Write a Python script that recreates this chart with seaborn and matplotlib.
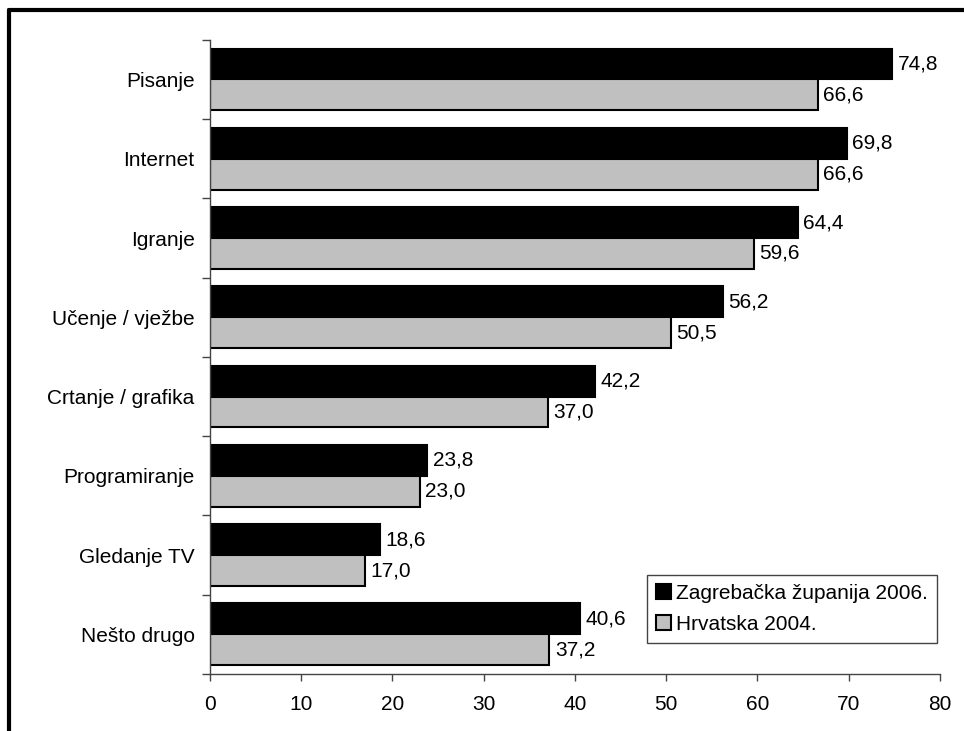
import matplotlib
matplotlib.use("Agg")
import matplotlib.pyplot as plt
import seaborn as sns
import pandas as pd
from matplotlib.lines import Line2D
from matplotlib.patches import Patch

# data
categories = ["Pisanje", "Internet", "Igranje", "Učenje / vježbe",
              "Crtanje / grafika", "Programiranje", "Gledanje TV", "Nešto drugo"]
zagreb_2006 = [74.8, 69.8, 64.4, 56.2, 42.2, 23.8, 18.6, 40.6]
hrvatska_2004 = [66.6, 66.6, 59.6, 50.5, 37.0, 23.0, 17.0, 37.2]
series_names = ["Zagrebačka županija 2006.", "Hrvatska 2004."]
x_ticks = [0, 10, 20, 30, 40, 50, 60, 70, 80]

df = pd.DataFrame({
    "kategorija": categories * 2,
    "postotak": zagreb_2006 + hrvatska_2004,
    "serija": [series_names[0]] * len(categories) + [series_names[1]] * len(categories),
})

sns.set_style("white")
plt.rcParams["font.family"] = ["Liberation Sans", "DejaVu Sans"]
plt.rcParams["text.color"] = "black"
plt.rcParams["xtick.color"] = "black"
plt.rcParams["ytick.color"] = "black"
fs = 15

fig = plt.figure(figsize=(9.64, 7.31), dpi=100)
ax = fig.add_axes([0.2178, 0.078, 0.7572, 0.8675])

colors = ["#000000", "#c0c0c0"]
sns.barplot(data=df, x="postotak", y="kategorija", hue="serija", orient="h",
            palette=colors, width=0.78, edgecolor="black", linewidth=1.5,
            saturation=1, legend=False, ax=ax)

for cont in ax.containers:
    labels = [f"{v:.1f}".replace(".", ",") for v in cont.datavalues]
    ax.bar_label(cont, labels=labels, padding=4, fontsize=fs)

ax.set_xlim(0, 80)
ax.set_xticks(x_ticks)
ax.set_xticklabels([str(t) for t in x_ticks], fontsize=fs)
ax.set_ylim(len(categories) - 0.5, -0.5)
ax.set_yticks(range(len(categories)))
ax.set_yticklabels(categories, fontsize=fs)
ax.set_yticks([i - 0.5 for i in range(len(categories) + 1)], minor=True)
ax.tick_params(axis="y", which="major", length=0, pad=11)
ax.tick_params(axis="y", which="minor", length=6, width=1, color="#444444", direction="out", left=True)
ax.tick_params(axis="x", length=5, width=1, color="#444444", direction="out", bottom=True, pad=10)
ax.set_xlabel("")
ax.set_ylabel("")

for side in ["top", "right"]:
    ax.spines[side].set_visible(False)
for side in ["left", "bottom"]:
    ax.spines[side].set_color("#444444")
    ax.spines[side].set_linewidth(1)

handles = [Patch(facecolor=c, edgecolor="black", linewidth=1.5) for c in colors]
leg = ax.legend(handles, series_names, loc="lower right", bbox_to_anchor=(0.996, 0.049),
                fontsize=fs, frameon=True, fancybox=False, framealpha=1,
                edgecolor="#444444", handlelength=0.7, handleheight=0.7,
                handletextpad=0.25, borderpad=0.45, labelspacing=0.55,
                borderaxespad=0)
leg.get_frame().set_linewidth(1)

# outer frame (top and left edges visible)
fig.add_artist(Line2D([0.0093, 1.0], [0.9863, 0.9863], color="black", lw=3, transform=fig.transFigure))
fig.add_artist(Line2D([0.0093, 0.0093], [0.0, 0.9863], color="black", lw=3, transform=fig.transFigure))

fig.savefig("out.png", dpi=100)
